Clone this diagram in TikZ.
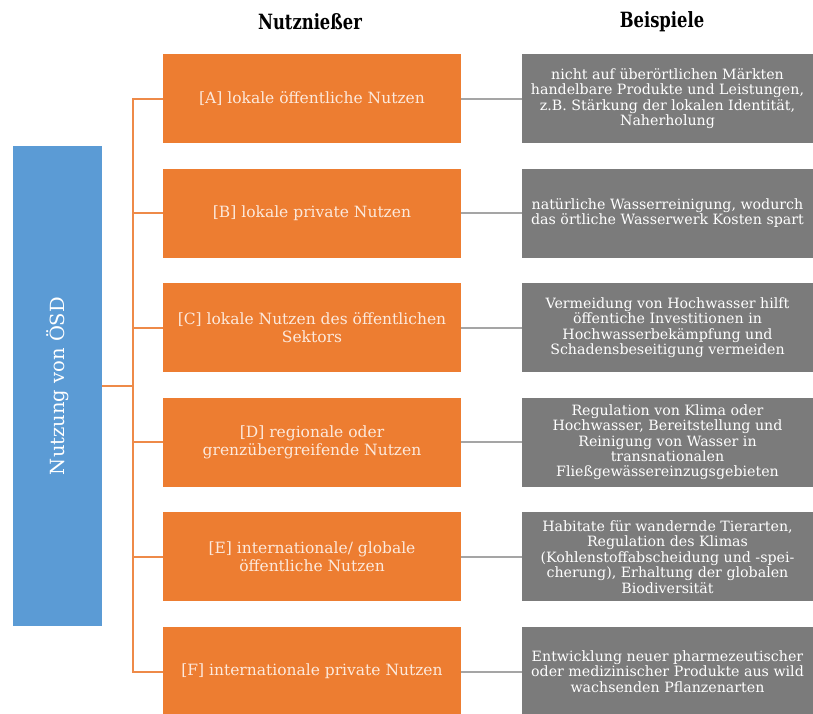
\documentclass[tikz,border=0pt]{standalone}
\usepackage{fontspec}
\setmainfont{DejaVu Serif}
\definecolor{obox}{HTML}{ED7D31}
\definecolor{oline}{HTML}{EE8A48}
\definecolor{gbox}{HTML}{7B7B7B}
\definecolor{gline}{HTML}{A5A5A5}
\definecolor{bbox}{HTML}{5B9BD5}
\definecolor{otext}{HTML}{FCE9DC}
\begin{document}
\begin{tikzpicture}[x=1pt,y=-1pt,
  obx/.style={rectangle,fill=obox,minimum width=298pt,minimum height=89pt,inner sep=2pt,
    text=otext,align=center,font=\fontsize{15.5}{17.5}\selectfont},
  gbx/.style={rectangle,fill=gbox,minimum width=291pt,minimum height=89pt,inner sep=1pt,
    text=white,align=center,font=\fontsize{14.2}{15.4}\selectfont},
  hdr/.style={font=\fontsize{21}{24}\selectfont\bfseries},
  oconn/.style={draw=oline,line width=2pt},
  gconn/.style={draw=gline,line width=2pt}]
\useasboundingbox (0,0) rectangle (813,713);
\clip (0,0) rectangle (813,713);
\fill[white] (0,0) rectangle (813,713);
\node[hdr] (h1) at (310,22) {\scalebox{0.78}[1]{Nutznießer}};
\node[hdr] (h2) at (662,22) {\scalebox{0.78}[1]{Beispiele}};
\node[rectangle,fill=bbox,minimum width=89pt,minimum height=480pt] (blue) at (57.5,386) {};
\node[rotate=90,text=white,font=\fontsize{19.5}{22}\selectfont] (bt) at (blue.center) {Nutzung von ÖSD};
\coordinate (trunk) at (133,386);
\node[obx] (A) at (312,98.5) {[A] lokale öffentliche Nutzen};
\node[obx] (B) at (312,213.1) {[B] lokale private Nutzen};
\node[obx] (C) at (312,327.7) {[C] lokale Nutzen des öffentlichen\\Sektors};
\node[obx] (D) at (312,442.3) {[D] regionale oder\\grenzübergreifende Nutzen};
\node[obx] (E) at (312,556.9) {[E] internationale/ globale\\öffentliche Nutzen};
\node[obx] (F) at (312,671.5) {[F] internationale private Nutzen};
\node[gbx] (GA) at (667.5,98.5) {nicht auf überörtlichen Märkten\\handelbare Produkte und Leistungen,\\z.B. Stärkung der lokalen Identität,\\Naherholung};
\node[gbx] (GB) at (667.5,213.1) {natürliche Wasserreinigung, wodurch\\das örtliche Wasserwerk Kosten spart};
\node[gbx] (GC) at (667.5,327.7) {Vermeidung von Hochwasser hilft\\öffentiche Investitionen in\\Hochwasserbekämpfung und\\Schadensbeseitigung vermeiden};
\node[gbx] (GD) at (667.5,442.3) {Regulation von Klima oder\\Hochwasser, Bereitstellung und\\Reinigung von Wasser in\\transnationalen\\Fließgewässereinzugsgebieten};
\node[gbx] (GE) at (667.5,556.9) {Habitate für wandernde Tierarten,\\Regulation des Klimas\\(Kohlenstoffabscheidung und -spei-\\cherung), Erhaltung der globalen\\Biodiversität};
\node[gbx] (GF) at (667.5,671.5) {Entwicklung neuer pharmezeutischer\\oder medizinischer Produkte aus wild\\wachsenden Pflanzenarten};
\draw[oconn] (blue.east) -- (trunk);
\foreach \n in {A,B,C,D,E,F} {
  \draw[oconn] (trunk) |- (\n.west);
  \draw[gconn] (\n.east) -- (G\n.west);
}
\end{tikzpicture}
\end{document}
